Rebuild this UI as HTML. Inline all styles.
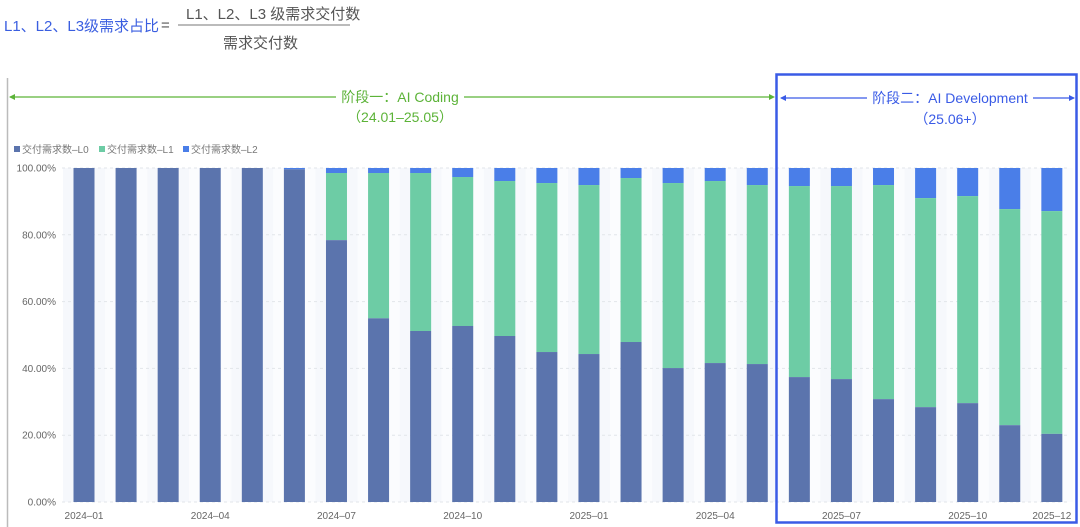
<!DOCTYPE html>
<html><head><meta charset="utf-8"><style>
html,body{margin:0;padding:0;background:#fff;}
svg{display:block;font-family:"Liberation Sans","Noto Sans CJK SC",sans-serif;}
</style></head><body>
<svg id="s" width="1080" height="527" viewBox="0 0 1080 527" xmlns="http://www.w3.org/2000/svg">
<text x="4" y="31" font-size="15" fill="#3a5ee0">L1、L2、L3级需求占比</text>
<text x="161" y="30" font-size="15" fill="#555">=</text>
<text x="186" y="19" font-size="15" fill="#555">L1、L2、L3 级需求交付数</text>
<line x1="178" y1="25" x2="350" y2="25" stroke="#777" stroke-width="1"/>
<text x="223" y="48" font-size="15" fill="#555">需求交付数</text>
<line x1="7.5" y1="78" x2="7.5" y2="527" stroke="#bbb" stroke-width="1.5"/>
<g id="bands"></g>
<g id="grid"></g>
<g id="bars"></g>
<line x1="10" y1="97" x2="336" y2="97" stroke="#5cb338" stroke-width="1.2"/>
<line x1="464" y1="97" x2="773" y2="97" stroke="#5cb338" stroke-width="1.2"/>
<path d="M9 97 L15 94 L15 100Z" fill="#5cb338"/>
<path d="M775 97 L769 94 L769 100Z" fill="#5cb338"/>
<text x="400" y="102" font-size="14" fill="#5cb338" text-anchor="middle">阶段一：AI Coding</text>
<text x="400" y="122" font-size="14" fill="#5cb338" text-anchor="middle">（24.01–25.05）</text>
<rect x="776.5" y="74.5" width="300" height="448" fill="none" stroke="#3a5be6" stroke-width="2.5"/>
<line x1="781" y1="98" x2="867" y2="98" stroke="#3a5be6" stroke-width="1.2"/>
<line x1="1033" y1="98" x2="1074" y2="98" stroke="#3a5be6" stroke-width="1.2"/>
<path d="M780 98 L786 95 L786 101Z" fill="#3a5be6"/>
<path d="M1075 98 L1069 95 L1069 101Z" fill="#3a5be6"/>
<text x="950" y="103" font-size="14" fill="#3a5be6" text-anchor="middle">阶段二：AI Development</text>
<text x="950" y="124" font-size="14" fill="#3a5be6" text-anchor="middle">（25.06+）</text>
<rect x="14" y="146" width="6" height="6" fill="#5b74ad"/>
<text x="22" y="153" font-size="10" fill="#777">交付需求数–L0</text>
<rect x="99" y="146" width="6" height="6" fill="#6dcca5"/>
<text x="107" y="153" font-size="10" fill="#777">交付需求数–L1</text>
<rect x="183" y="146" width="6" height="6" fill="#4a7ee8"/>
<text x="191" y="153" font-size="10" fill="#777">交付需求数–L2</text>
<g id="labels" font-size="10" fill="#666"></g>
</svg>
<script>
var NS="http://www.w3.org/2000/svg";
function el(p,t,a,txt){var e=document.createElementNS(NS,t);for(var k in a)e.setAttribute(k,a[k]);if(txt)e.textContent=txt;document.getElementById(p).appendChild(e);}
var top0=168,bot=502,h=bot-top0;
var L0=[100,100,100,100,100,99.6,78.4,55,51.2,52.7,49.7,44.9,44.3,47.9,40.1,41.6,41.3,37.4,36.8,30.8,28.4,29.6,23,20.4];
var L1=[100,100,100,100,100,99.6,98.5,98.5,98.5,97.3,96.1,95.5,94.9,97,95.5,96.1,94.9,94.6,94.6,94.9,91,91.6,87.7,87.1];
for(var i=0;i<24;i++){
 var cx=84+i*42.08;
 el("bands","rect",{x:cx-21,y:top0,width:42,height:h,fill:(i%2?"#fbfcfe":"#f6f8fc")});
 var y0=bot-L0[i]*h/100,y1=bot-L1[i]*h/100;
 el("bars","rect",{x:cx-10.5,y:top0,width:21,height:y1-top0,fill:"#4a7ee8"});
 el("bars","rect",{x:cx-10.5,y:y1,width:21,height:y0-y1,fill:"#6dcca5"});
 el("bars","rect",{x:cx-10.5,y:y0,width:21,height:bot-y0,fill:"#5b74ad"});
}
for(var j=0;j<=5;j++){
 var y=bot-j*h/5;
 el("grid","line",{x1:62,y1:y,x2:1070,y2:y,stroke:"#e2e5ea","stroke-dasharray":"3,3"});
 el("labels","text",{x:56,y:y+3.5,"text-anchor":"end"},(j*20).toFixed(2)+"%");
}
var xl={0:"2024–01",3:"2024–04",6:"2024–07",9:"2024–10",12:"2025–01",15:"2025–04",18:"2025–07",21:"2025–10",23:"2025–12"};
for(var k in xl){el("labels","text",{x:84+k*42.08,y:519,"text-anchor":"middle"},xl[k]);}
</script>
</body></html>
